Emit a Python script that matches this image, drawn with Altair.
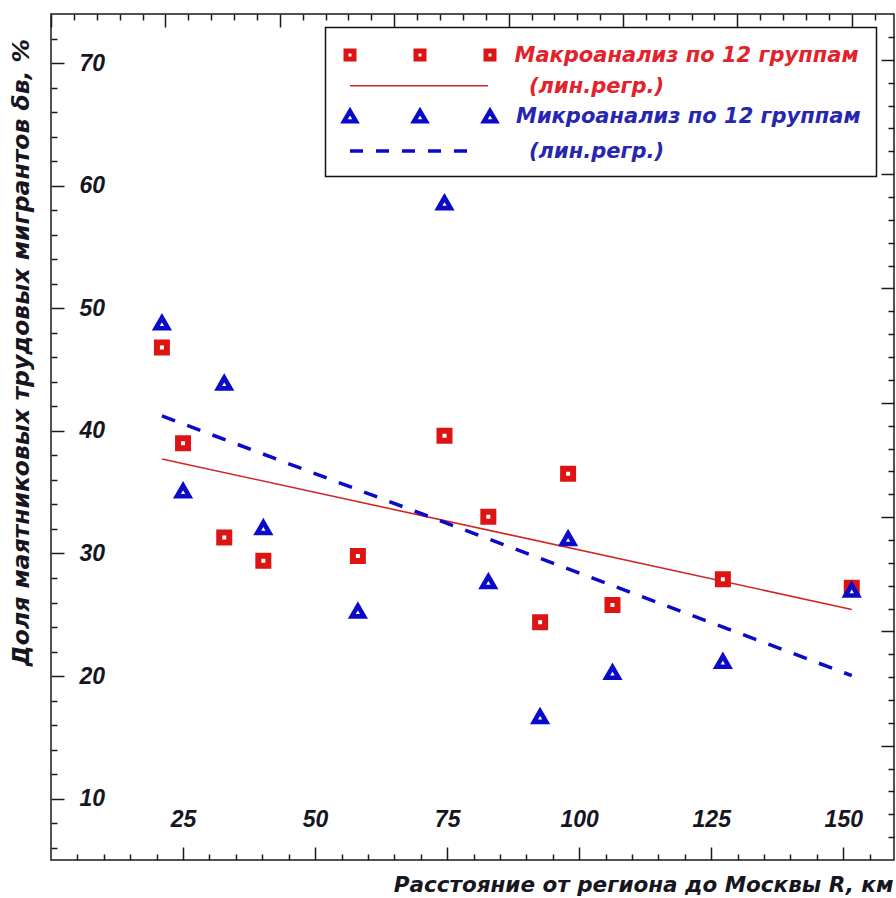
import altair as alt
import pandas as pd

# ---- data ----
distance_km = [21.0, 25.0, 32.8, 40.2, 58.1, 74.5, 82.8, 92.6, 97.9, 106.3, 127.2, 151.6]
macro_share = [46.8, 39.0, 31.3, 29.4, 29.8, 39.6, 33.0, 24.4, 36.5, 25.8, 27.9, 27.2]
micro_share = [48.8, 35.1, 43.9, 32.1, 25.3, 58.6, 27.7, 16.7, 31.2, 20.3, 21.2, 27.0]

# ---- tick values ----
x_major = [25, 50, 75, 100, 125, 150]
x_minor = [5, 10, 15, 20, 30, 35, 40, 45, 55, 60, 65, 70, 80, 85, 90, 95,
           105, 110, 115, 120, 130, 135, 140, 145, 155]
y_major = [10, 20, 30, 40, 50, 60, 70]
y_minor = [6, 8, 12, 14, 16, 18, 22, 24, 26, 28, 32, 34, 36, 38, 42, 44, 46, 48,
           52, 54, 56, 58, 62, 64, 66, 68, 72]
top_major = [0, 21.66, 43.32, 64.98, 86.64, 108.3, 129.96, 151.62]
top_minor = [4.33, 8.66, 13.0, 17.33, 26.0, 30.33, 34.66, 39.0, 47.65, 52.0, 56.3,
             60.65, 69.3, 73.65, 78.0, 82.3, 91.0, 95.3, 99.6, 104.0, 112.6, 117.0,
             121.3, 125.6, 134.3, 138.6, 143.0, 147.3, 156.0]
right_major = [14.32, 23.65, 32.97, 42.3, 51.62, 60.94, 70.27]
right_minor = [6.86, 8.73, 10.6, 12.46, 16.19, 18.05, 19.92, 21.78, 25.51, 27.38,
               29.24, 31.1, 34.83, 36.7, 38.56, 40.43, 44.16, 46.02, 47.89, 49.75,
               53.48, 55.35, 57.21, 59.08, 62.8, 64.67, 66.53, 68.4, 72.13]

x_title = "Расстояние от региона до Москвы R, км"
y_title = "Доля маятниковых трудовых мигрантов δв, %"
legend_macro = "Макроанализ по 12 группам"
legend_micro = "Микроанализ по 12 группам"
legend_reg = "(лин.регр.)"

RED = "#dd1414"
RED_LINE = "#d02828"
RED_TEXT = "#e3222b"
BLUE = "#0a0ac8"
BLUE_TEXT = "#2626b0"
INK = "#16161e"
TXT_FONT = "DejaVu Sans"
NUM_FONT = "Liberation Sans"

df = pd.DataFrame({"x": distance_km, "macro": macro_share, "micro": micro_share})
leg = pd.DataFrame({"k": [0]})

xs = alt.Scale(domain=[0, 159.6], nice=False, zero=False)
ys = alt.Scale(domain=[5, 74], nice=False, zero=False)

MAJ = 13
MIN = 6


def tick_axis(orient, values, size):
    return alt.Axis(orient=orient, values=values, tickSize=size, offset=-size,
                    labels=False, domain=False, grid=False, title=None)


x_main_axis = alt.Axis(orient="bottom", values=x_major, tickSize=MAJ, offset=-MAJ,
                       domain=False, grid=False, labelPadding=-41,
                       labelBaseline="middle", labelFlush=False, labelOverlap=False,
                       labelFont=NUM_FONT, labelFontSize=23, labelFontStyle="italic",
                       labelFontWeight="bold", labelColor=INK,
                       title=x_title, titleX=842, titleY=38, titleAlign="right",
                       titleBaseline="middle", titleFont=TXT_FONT, titleFontSize=21.5,
                       titleFontStyle="italic", titleFontWeight="bold", titleColor=INK)
y_main_axis = alt.Axis(orient="left", values=y_major, tickSize=MAJ, offset=-MAJ,
                       domain=False, grid=False, labelPadding=-28, labelAlign="left",
                       labelBaseline="middle", labelFlush=False, labelOverlap=False,
                       labelFont=NUM_FONT, labelFontSize=23, labelFontStyle="italic",
                       labelFontWeight="bold", labelColor=INK,
                       title=y_title, titleX=-43, titleY=338, titleAlign="center",
                       titleBaseline="middle", titleAngle=270, titleFont=TXT_FONT,
                       titleFontSize=23.5, titleFontStyle="italic", titleFontWeight="bold",
                       titleColor=INK)

red_line = alt.Chart(df).transform_regression("x", "macro").mark_line(
    color=RED_LINE, strokeWidth=1.6
).encode(
    x=alt.X("x:Q", scale=xs, axis=tick_axis("top", top_major, MAJ)),
    y=alt.Y("macro:Q", scale=ys, axis=tick_axis("right", right_major, MAJ)),
)

blue_line = alt.Chart(df).transform_regression("x", "micro").mark_line(
    color=BLUE, strokeWidth=3.5, strokeDash=[14, 13], strokeCap="butt"
).encode(
    x=alt.X("x:Q", scale=xs, axis=tick_axis("top", top_minor, MIN)),
    y=alt.Y("micro:Q", scale=ys, axis=tick_axis("right", right_minor, MIN)),
)

red_pts = alt.Chart(df).mark_point(
    shape="square", size=100, filled=True, fill="white", stroke=RED,
    strokeWidth=6, opacity=1
).encode(
    x=alt.X("x:Q", scale=xs, axis=x_main_axis),
    y=alt.Y("macro:Q", scale=ys, axis=y_main_axis),
)

blue_pts = alt.Chart(df).mark_point(
    shape="triangle-up", size=150, filled=True, fill="white", stroke=BLUE,
    strokeWidth=4.6, opacity=1
).encode(
    x=alt.X("x:Q", scale=xs, axis=tick_axis("bottom", x_minor, MIN)),
    y=alt.Y("micro:Q", scale=ys, axis=tick_axis("left", y_minor, MIN)),
)

# ---- hand-built legend ----
three_squares = ("M-7.4,-0.4H-6.6V0.4H-7.4Z M-0.4,-0.4H0.4V0.4H-0.4Z "
                 "M6.6,-0.4H7.4V0.4H6.6Z")
three_triangles = ("M-7,-0.58L-7.6,0.44L-6.4,0.44Z M0,-0.58L-0.6,0.44L0.6,0.44Z "
                   "M7,-0.58L6.4,0.44L7.6,0.44Z")

legend_box = alt.Chart(leg).mark_rect(fill="white", stroke="#111", strokeWidth=1.5).encode(
    x=alt.value(274.5), x2=alt.value(825.5), y=alt.value(13.5), y2=alt.value(162.5)
)
leg_sq = alt.Chart(leg).mark_point(
    shape=three_squares, size=400, filled=True, fill="white", stroke=RED,
    strokeWidth=5, opacity=1
).encode(x=alt.value(369), y=alt.value(41))
leg_tri = alt.Chart(leg).mark_point(
    shape=three_triangles, size=400, filled=True, fill="white", stroke=BLUE,
    strokeWidth=4.4, opacity=1
).encode(x=alt.value(369), y=alt.value(103))
leg_red_line = alt.Chart(leg).mark_rule(color=RED_LINE, strokeWidth=1.6).encode(
    x=alt.value(299), x2=alt.value(437), y=alt.value(71.7)
)
leg_blue_line = alt.Chart(leg).mark_rule(
    color=BLUE, strokeWidth=3.5, strokeDash=[13, 13], strokeCap="butt"
).encode(x=alt.value(299), x2=alt.value(427), y=alt.value(137))


def leg_text(txt, color, x, y):
    return alt.Chart(leg).mark_text(
        align="left", baseline="middle", font=TXT_FONT, fontSize=21,
        fontStyle="italic", fontWeight="bold", color=color
    ).encode(x=alt.value(x), y=alt.value(y), text=alt.value(txt))


chart = alt.layer(
    red_line, blue_line, red_pts, blue_pts,
    legend_box, leg_sq, leg_red_line, leg_tri, leg_blue_line,
    leg_text(legend_macro, RED_TEXT, 463.5, 42),
    leg_text(legend_reg, RED_TEXT, 478, 72.7),
    leg_text(legend_micro, BLUE_TEXT, 465, 102.7),
    leg_text(legend_reg, BLUE_TEXT, 478, 137.7),
).resolve_axis(
    x="independent", y="independent"
).properties(
    width=843, height=846,
    padding={"left": 51, "top": 14, "right": 2, "bottom": 38},
    autosize=alt.AutoSizeParams(type="none"),
    background="white",
).configure_view(
    stroke="#1a1a1a", strokeWidth=1.5
).configure_axis(
    tickColor="#1a1a1a", tickWidth=1.5
)

chart.save("out.html", embed_options={"renderer": "svg", "actions": False})
